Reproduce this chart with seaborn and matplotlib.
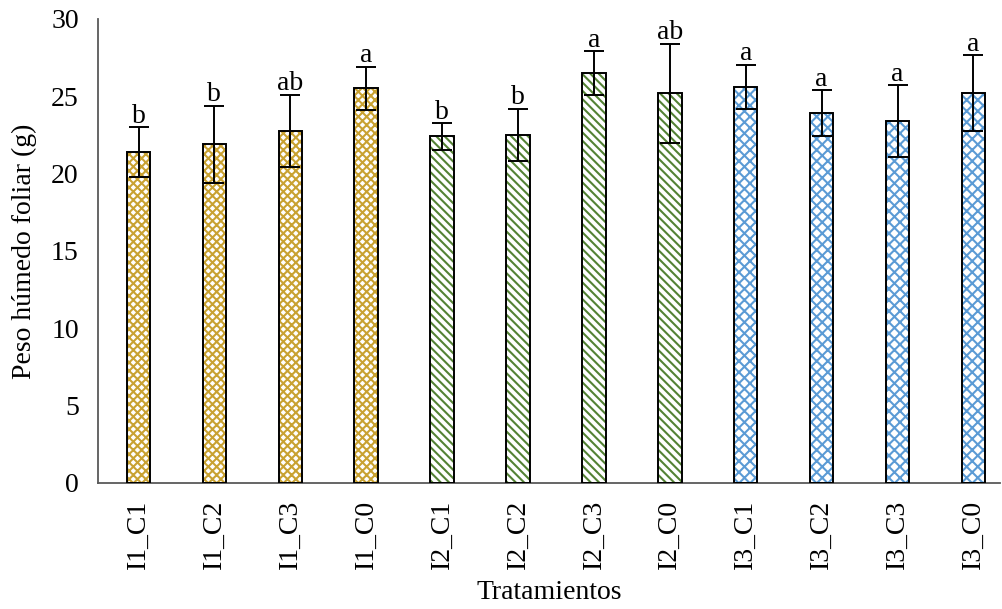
import numpy as np
import pandas as pd
import matplotlib
matplotlib.use("Agg")
import matplotlib.pyplot as plt
import seaborn as sns

# Treatments, means, standard errors and significance letters
tratamientos = ["I1_C1", "I1_C2", "I1_C3", "I1_C0",
                "I2_C1", "I2_C2", "I2_C3", "I2_C0",
                "I3_C1", "I3_C2", "I3_C3", "I3_C0"]
grupo = ["I1"] * 4 + ["I2"] * 4 + ["I3"] * 4
peso = [21.4, 21.9, 22.75, 25.5,
        22.4, 22.5, 26.5, 25.2,
        25.6, 23.9, 23.4, 25.2]
error = [1.6, 2.5, 2.35, 1.4,
         0.85, 1.7, 1.4, 3.2,
         1.45, 1.5, 2.3, 2.45]
letras = ["b", "b", "ab", "a",
          "b", "b", "a", "ab",
          "a", "a", "a", "a"]

colores = {"I1": "#C9A232", "I2": "#548235", "I3": "#5B9BD5"}
tramas = {"I1": "xxxx", "I2": "\\\\\\\\", "I3": "xxx"}

df = pd.DataFrame({"Tratamiento": tratamientos, "Grupo": grupo, "Peso": peso})

sns.set_theme(style="white")
plt.rcParams["font.family"] = ["Liberation Serif", "DejaVu Serif"]
plt.rcParams["text.color"] = "black"
plt.rcParams["axes.labelcolor"] = "black"
plt.rcParams["hatch.linewidth"] = 1.5

fig = plt.figure(figsize=(10.03, 6.09), dpi=100)
ax = fig.add_axes([0.098, 0.207, 0.899, 0.762])

sns.barplot(data=df, x="Tratamiento", y="Peso", order=tratamientos,
            color="white", width=0.31, errorbar=None, ax=ax)

# Hatched fill in the group colour, then a black outline on top
for patch, g in zip(ax.patches, grupo):
    patch.set_facecolor("white")
    patch.set_edgecolor(colores[g])
    patch.set_hatch(tramas[g])
    patch.set_linewidth(0)
    outline = plt.Rectangle(patch.get_xy(), patch.get_width(), patch.get_height(),
                            fill=False, edgecolor="black", linewidth=1.4, zorder=3)
    ax.add_patch(outline)

xpos = np.arange(len(tratamientos))
ax.errorbar(xpos, peso, yerr=error, fmt="none", ecolor="black",
            elinewidth=1.4, capsize=7, capthick=1.4, zorder=4)

for x, y, e, t in zip(xpos, peso, error, letras):
    ax.text(x, y + e - 0.1, t, ha="center", va="bottom", fontsize=20,
            color="black", zorder=5)

ax.set_ylim(0, 30)
ax.set_xlim(-0.53, 11.35)
ax.set_yticks([0, 5, 10, 15, 20, 25, 30])
ax.tick_params(axis="both", length=0, labelsize=20, colors="black")
ax.tick_params(axis="y", pad=14)
ax.tick_params(axis="x", pad=12)
plt.setp(ax.get_xticklabels(), rotation=90)

ax.set_xlabel("Tratamientos", fontsize=20, labelpad=8)
ax.set_ylabel("Peso húmedo foliar (g)", fontsize=20, labelpad=10)

sns.despine(ax=ax)
for s in ("left", "bottom"):
    ax.spines[s].set_color("#595959")
    ax.spines[s].set_linewidth(1.3)

fig.savefig("out.png", dpi=100)
